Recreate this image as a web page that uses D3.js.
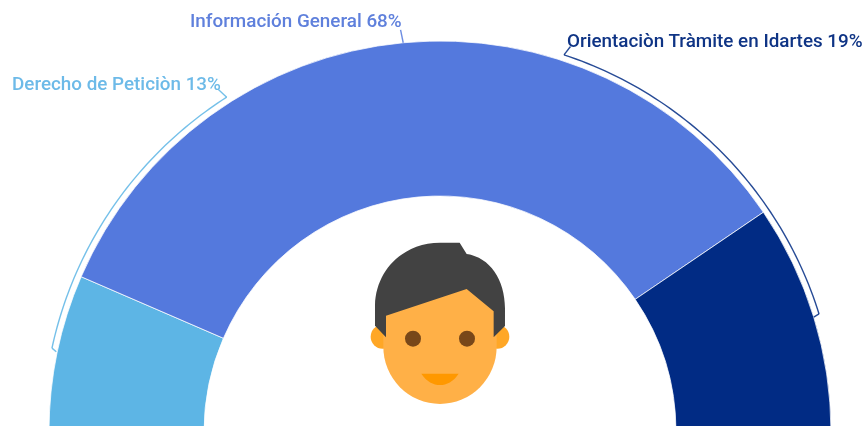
<!DOCTYPE html>
<html><head><meta charset="utf-8">
<script src="https://cdn.jsdelivr.net/npm/d3@7/dist/d3.min.js"></script>
<style>html,body{margin:0;padding:0;background:#fff;overflow:hidden}svg{display:block;filter:blur(0.35px)}</style>
</head><body><div id="chart"></div>
<script>
const categories = ["Derecho de Peticiòn", "Información General", "Orientaciòn Tràmite en Idartes"];
const percentLabels = ["Derecho de Peticiòn 13%", "Información General 68%", "Orientaciòn Tràmite en Idartes 19%"];
const values = [13, 68, 19];
const colors = ["#5DB5E5", "#5479DD", "#012B84"];
const labelColors = ["#6DBAE8", "#5F80DC", "#0F3485"];

const W = 864, H = 426, cx = 440, cy = 432, R = 391, r = 236, bracketR = 397;
const svg = d3.select("#chart").append("svg").attr("width", W).attr("height", H);
const g = svg.append("g").attr("transform", `translate(${cx},${cy})`);

const pie = d3.pie().sort(null).startAngle(-Math.PI / 2).endAngle(Math.PI / 2);
const arc = d3.arc().innerRadius(r).outerRadius(R);
g.selectAll("path.slice").data(pie(values)).join("path").attr("class", "slice")
  .attr("d", arc).attr("fill", (d, i) => colors[i])
  .attr("stroke", "#fff").attr("stroke-opacity", 0.75).attr("stroke-width", 1);

// Leader brackets: angle spans in degrees from the top of the dial, with a tick at each end
const deg = Math.PI / 180;
const bracketSpans = [[-77.8, -32.5], [null, null], [18.2, 72.7]];
const radial = d3.lineRadial().angle(d => d[0]).radius(d => d[1]);
bracketSpans.forEach((s, i) => {
  if (s[0] === null) return;
  const a0 = s[0] * deg, a1 = s[1] * deg;
  const pts = d3.range(0, 61).map(k => [a0 + (a1 - a0) * k / 60, bracketR]);
  g.append("path").attr("fill", "none").attr("stroke", colors[i])
    .attr("stroke-width", 1.4).attr("stroke-opacity", 0.85).attr("d", radial(pts));
});

// End ticks to labels and arc ends
const leaderLines = [
  [[-78.2, 392], [-77.8, 397]],
  [[-32.5, 397], [-32.9, 408]],
  [[-5.4, 391], [-5.6, 404]],
  [[18.2, 397], [18.7, 407]],
  [[72.7, 397], [72.9, 391]]
];
const leaderColor = [0, 0, 1, 2, 2];
leaderLines.forEach((l, i) => {
  g.append("path").attr("fill", "none").attr("stroke", colors[leaderColor[i]])
   .attr("stroke-width", 1.4).attr("stroke-opacity", 0.85)
   .attr("d", radial(l.map(p => [p[0] * deg, p[1]])));
});

const labelPos = [[12, 90], [190, 27.3], [567, 46.7]];
svg.selectAll("text.lab").data(percentLabels).join("text").attr("class", "lab")
  .attr("x", (d, i) => labelPos[i][0]).attr("y", (d, i) => labelPos[i][1])
  .attr("fill", (d, i) => labelColors[i])
  .style("font-family", "Roboto").style("font-weight", 500).style("font-size", "18.85px")
  .text(d => d);

// Face icon
const face = svg.append("g").attr("transform", "translate(340,230) scale(0.3333)");
face.append("circle").attr("cx", 128).attr("cy", 320).attr("r", 36).attr("fill", "#FFA726");
face.append("circle").attr("cx", 472).attr("cy", 320).attr("r", 36).attr("fill", "#FFA726");
face.append("path").attr("fill", "#FFB047")
  .attr("d", "M130,150 L470,150 L470,350 A170,172 0 0 1 130,350 Z");
face.append("circle").attr("cx", 219).attr("cy", 326).attr("r", 24).attr("fill", "#784719");
face.append("circle").attr("cx", 381).attr("cy", 326).attr("r", 24).attr("fill", "#784719");
face.append("path").attr("fill", "#FF9800").attr("d", "M244,431 L356,431 C340,455 320,465 300,465 C280,465 260,455 244,431 Z");
face.append("path").attr("fill", "#424242")
  .attr("d", "M138,322 L105,287 L105,225 C108,120 190,38 300,38 L359,38 L380,72 C450,82 495,150 495,235 L495,288 L461,322 L461,244 L380,177 L138,257 Z");
</script></body></html>
